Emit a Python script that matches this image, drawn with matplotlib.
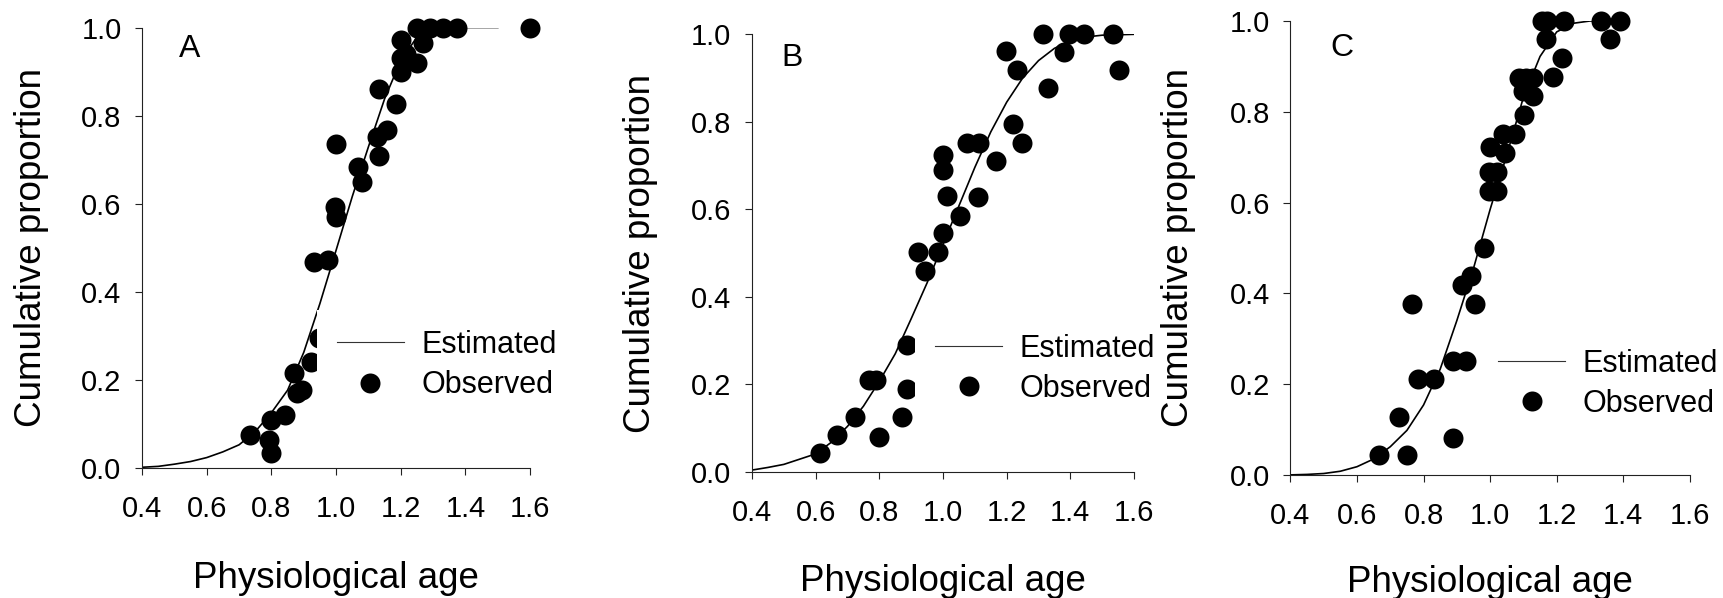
import matplotlib
matplotlib.use("Agg")
import matplotlib.pyplot as plt
from matplotlib.lines import Line2D

plt.rcParams['font.family'] = ['Liberation Sans', 'DejaVu Sans']

#___________________________________________________________
# observed points

a_obs_x = [0.735, 0.793, 0.800, 0.800, 0.843, 0.869, 0.879, 0.896, 0.923, 0.947,
           0.933, 0.976, 0.998, 1.000, 1.000, 1.069, 1.080, 1.126, 1.157, 1.133,
           1.134, 1.186, 1.200, 1.201, 1.200, 1.215, 1.250, 1.268, 1.250, 1.291,
           1.332, 1.373, 1.600]
a_obs_y = [0.074, 0.063, 0.034, 0.108, 0.120, 0.216, 0.169, 0.176, 0.241, 0.294,
           0.467, 0.472, 0.593, 0.570, 0.735, 0.682, 0.650, 0.752, 0.767, 0.709,
           0.860, 0.826, 0.900, 0.930, 0.972, 0.940, 0.919, 0.964, 1.000, 1.000,
           1.000, 1.000, 1.000]

b_obs_x = [0.615, 0.667, 0.723, 0.767, 0.790, 0.800, 0.871, 0.887, 0.887, 0.922,
           0.943, 0.985, 0.999, 1.012, 0.999, 0.999, 1.053, 1.076, 1.113, 1.109,
           1.167, 1.221, 1.247, 1.198, 1.232, 1.331, 1.315, 1.381, 1.397, 1.443,
           1.535, 1.554]
b_obs_y = [0.042, 0.084, 0.126, 0.210, 0.210, 0.079, 0.125, 0.189, 0.291, 0.503,
           0.460, 0.502, 0.545, 0.630, 0.690, 0.724, 0.585, 0.752, 0.752, 0.629,
           0.711, 0.795, 0.752, 0.963, 0.918, 0.877, 1.000, 0.959, 1.000, 1.000,
           1.000, 0.918]

c_obs_x = [0.667, 0.749, 0.725, 0.887, 0.782, 0.832, 0.887, 0.927, 0.765, 0.954,
           0.915, 0.942, 0.982, 0.997, 1.020, 0.997, 1.020, 0.999, 1.044, 1.039,
           1.074, 1.101, 1.100, 1.130, 1.088, 1.108, 1.128, 1.188, 1.217, 1.167,
           1.155, 1.172, 1.222, 1.332, 1.390, 1.360]
c_obs_y = [0.044, 0.044, 0.127, 0.082, 0.211, 0.211, 0.251, 0.251, 0.377, 0.377,
           0.418, 0.439, 0.500, 0.625, 0.625, 0.667, 0.667, 0.723, 0.710, 0.750,
           0.750, 0.793, 0.845, 0.835, 0.875, 0.875, 0.875, 0.877, 0.919, 0.960,
           1.000, 1.000, 1.000, 1.000, 1.000, 0.960]

# estimated curves, every 0.05
a_est_x = [0.40, 0.45, 0.50, 0.55, 0.60, 0.65, 0.70, 0.75, 0.80, 0.85, 0.90, 0.95,
           1.00, 1.05, 1.10, 1.15, 1.20, 1.25, 1.30, 1.35, 1.40, 1.45, 1.50]
a_est_y = [0.001, 0.003, 0.008, 0.014, 0.023, 0.036, 0.052, 0.082, 0.125, 0.176,
           0.262, 0.373, 0.494, 0.616, 0.729, 0.838, 0.925, 0.978, 0.996, 1.000,
           1.000, 1.000, 1.000]

b_est_x = [0.40, 0.45, 0.50, 0.55, 0.60, 0.65, 0.70, 0.75, 0.80, 0.85, 0.90, 0.95,
           1.00, 1.05, 1.10, 1.15, 1.20, 1.25, 1.30, 1.35, 1.40, 1.45, 1.50, 1.55,
           1.60]
b_est_y = [0.004, 0.010, 0.017, 0.029, 0.041, 0.068, 0.104, 0.150, 0.207, 0.270,
           0.350, 0.432, 0.520, 0.608, 0.696, 0.777, 0.845, 0.900, 0.940, 0.968,
           0.985, 0.994, 0.998, 0.999, 1.000]

c_est_x = [0.40, 0.45, 0.50, 0.55, 0.60, 0.65, 0.70, 0.75, 0.80, 0.85, 0.90, 0.95,
           1.00, 1.05, 1.10, 1.15, 1.20, 1.25, 1.30, 1.35, 1.40]
c_est_y = [0.000, 0.001, 0.003, 0.008, 0.018, 0.035, 0.062, 0.098, 0.154, 0.233,
           0.340, 0.455, 0.585, 0.705, 0.832, 0.922, 0.976, 0.995, 1.000, 1.000,
           1.000]

panel_letters = ["A", "B", "C"]
x_ticks = [0.4, 0.6, 0.8, 1.0, 1.2, 1.4, 1.6]
y_ticks = [0.0, 0.2, 0.4, 0.6, 0.8, 1.0]

#___________________________________________________________
# layout (figure fractions / axes fractions), tuned by eye

axes_rects = [[0.0824, 0.2179, 0.2251, 0.7361],
              [0.4362, 0.2110, 0.2216, 0.7316],
              [0.7485, 0.2059, 0.2317, 0.7590]]
letter_pos = [(0.548, 0.9325), (0.527, 0.928), (0.554, 0.922)]
ylabel_x = [-0.285, -0.292, -0.281]
xlabel_y = [-0.2506, -0.2496, -0.2370]
legend_anchor = [(0.450, 0.358), (0.426, 0.361), (0.469, 0.322)]

obs = [(a_obs_x, a_obs_y), (b_obs_x, b_obs_y), (c_obs_x, c_obs_y)]
est = [(a_est_x, a_est_y), (b_est_x, b_est_y), (c_est_x, c_est_y)]

fig = plt.figure(figsize=(17.24, 5.98), dpi=100)

for i in range(3):
    ax = fig.add_axes(axes_rects[i])
    ex, ey = est[i]
    ox, oy = obs[i]
    ax.plot(ex, ey, color="black", lw=1.2, zorder=2)
    ax.plot(ox, oy, "o", color="black", markersize=14.4, markeredgewidth=0,
            clip_on=False, zorder=3)

    ax.set_xlim(0.4, 1.6)
    ax.set_ylim(0.0, 1.0)
    ax.set_xticks(x_ticks)
    ax.set_yticks(y_ticks)
    ax.set_xticklabels([f"{t:.1f}" for t in x_ticks])
    ax.set_yticklabels([f"{t:.1f}" for t in y_ticks])
    for side in ["top", "right"]:
        ax.spines[side].set_visible(False)
    for side in ["left", "bottom"]:
        ax.spines[side].set_linewidth(0.8)
        ax.spines[side].set_color("#222222")
    ax.tick_params(axis="both", direction="out", length=4.8, width=0.8,
                   color="#222222", labelsize=21)
    ax.tick_params(axis="x", pad=15)
    ax.tick_params(axis="y", pad=10)

    ax.set_xlabel("Physiological age", fontsize=26.5)
    ax.xaxis.set_label_coords(0.5, xlabel_y[i])
    ax.xaxis.label.set_va("center")
    ax.set_ylabel("Cumulative proportion", fontsize=26.5)
    ax.yaxis.set_label_coords(ylabel_x[i], 0.5)
    ax.yaxis.label.set_va("center")

    ax.text(letter_pos[i][0], letter_pos[i][1], panel_letters[i], fontsize=23,
            ha="center", va="baseline")

    handles = [Line2D([], [], color="#333333", lw=0.8),
               Line2D([], [], marker="o", color="black", linestyle="none",
                      markersize=14.4, markeredgewidth=0)]
    leg = ax.legend(handles, ["Estimated", "Observed"], loc="upper left",
                    bbox_to_anchor=legend_anchor[i], borderaxespad=0,
                    borderpad=0.65, fontsize=22, handlelength=2.22,
                    handletextpad=0.55, labelspacing=0.34, frameon=True,
                    fancybox=False, framealpha=1, facecolor="white",
                    edgecolor="none")
    leg.set_zorder(5)

fig.savefig("out.png", dpi=100)
